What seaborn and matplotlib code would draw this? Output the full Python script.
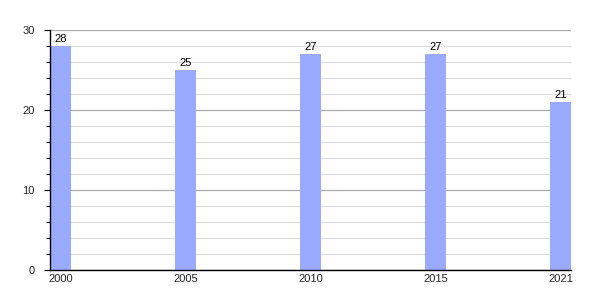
import matplotlib
matplotlib.use("Agg")
import matplotlib.pyplot as plt
import seaborn as sns
import pandas as pd
from matplotlib.ticker import MultipleLocator

years = ["2000", "2005", "2010", "2015", "2021"]
values = [28, 25, 27, 27, 21]

sns.set_theme(style="white")
plt.rcParams['font.family'] = ['Liberation Sans', 'DejaVu Sans']

df = pd.DataFrame({"year": years, "value": values})

fig = plt.figure(figsize=(6, 3), dpi=100)
ax = fig.add_axes([50/600, 1 - 270/300, 521/600, 240/300])

w = 0.168
sns.barplot(data=df, x="year", y="value", color="#99aaff", saturation=1,
            width=w, ax=ax, zorder=2)
for p in ax.patches:
    p.set_edgecolor("none")
    p.set_zorder(2)

ax.set_xlim(-w/2, len(years) - 1 + w/2)
ax.set_ylim(0, 30)
ax.yaxis.set_major_locator(MultipleLocator(10))
ax.yaxis.set_minor_locator(MultipleLocator(2))
ax.grid(axis="y", which="major", color="#aaaaaa", linewidth=0.9)
ax.grid(axis="y", which="minor", color="#dddddd", linewidth=0.9)
ax.set_axisbelow(True)

for s in ["top", "right"]:
    ax.spines[s].set_visible(False)
for s in ["left", "bottom"]:
    ax.spines[s].set_color("black")
    ax.spines[s].set_linewidth(1.0)
    ax.spines[s].set_zorder(3)

ax.tick_params(axis="y", which="major", direction="out", length=4, width=0.8,
               color="black", labelsize=8, pad=7, left=True)
ax.tick_params(axis="y", which="minor", direction="out", length=3, width=0.8,
               color="black", left=True)
ax.tick_params(axis="x", length=0, labelsize=8, pad=3)
ax.set_xlabel("")
ax.set_ylabel("")

for p, v in zip(ax.patches, values):
    ax.text(p.get_x() + p.get_width()/2, v + 0.2, str(v), ha="center", va="bottom",
            fontsize=8, color="black", zorder=4)

fig.savefig("out.png", dpi=100)
